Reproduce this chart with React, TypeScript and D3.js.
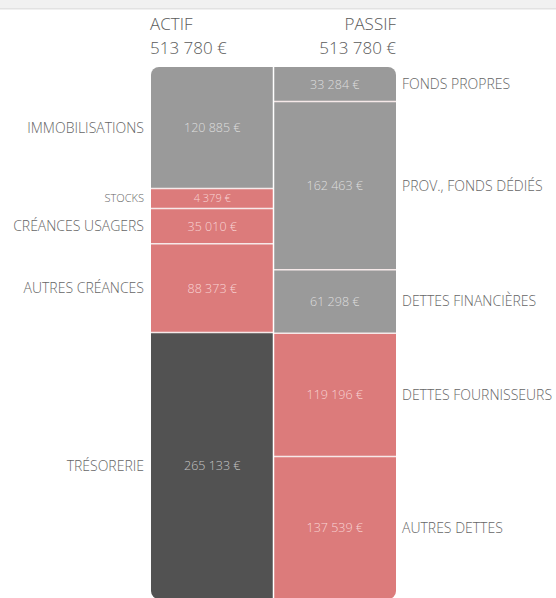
import { useMemo } from 'react';
import * as d3 from 'd3';

// bilan simplifié
const actifLabels = ['IMMOBILISATIONS', 'STOCKS', 'CRÉANCES USAGERS', 'AUTRES CRÉANCES', 'TRÉSORERIE'];
const actifValues = [120885, 4379, 35010, 88373, 265133];
const actifKinds = ['fixe', 'circ', 'circ', 'circ', 'treso'];

const passifLabels = ['FONDS PROPRES', 'PROV., FONDS DÉDIÉS', 'DETTES FINANCIÈRES', 'DETTES FOURNISSEURS', 'AUTRES DETTES'];
const passifValues = [33284, 162463, 61298, 119196, 137539];
const passifKinds = ['fixe', 'fixe', 'fixe', 'circ', 'circ'];

const fill: Record<string, string> = { fixe: '#9a9a9a', circ: '#dc7b7b', treso: '#525252' };
const ink: Record<string, string> = { fixe: '#dedede', circ: '#f8d3d3', treso: '#c4c4c4' };

const fr = d3.formatLocale({ decimal: ',', thousands: '\u00a0', grouping: [3], currency: ['', '\u00a0€'] });
const euro = fr.format('$,.0f');

const W = 556;
const H = 598;
const top = 67;
const bottom = 599;
const minH = 20;
const FONT = "'Open Sans', 'Noto Sans', sans-serif";

// stack with a minimum height for the tiny segments
function layout(values: number[]) {
  const total = d3.sum(values);
  const k = d3.scaleLinear().domain([0, total]).range([0, bottom - top]);
  const small = values.map((v) => k(v) < minH);
  const rest = d3.sum(values.filter((_, i) => !small[i]));
  const room = bottom - top - minH * small.filter(Boolean).length;
  const y = d3.scaleLinear().domain([0, rest]).range([0, room]);
  let acc = top;
  return values.map((v, i) => {
    const h = small[i] ? minH : y(v);
    const seg = { y0: acc, y1: acc + h, small: small[i] };
    acc += h;
    return seg;
  });
}

const App = () => {
  const x = d3.scaleBand().domain(['ACTIF', 'PASSIF']).range([151, 396]).paddingInner(0);
  const actif = useMemo(() => layout(actifValues), []);
  const passif = useMemo(() => layout(passifValues), []);
  const bw = x.bandwidth();
  const xa = x('ACTIF')!;
  const xp = x('PASSIF')!;

  return (
    <svg width={W} height={H} style={{ position: 'absolute', left: 0, top: 0, background: '#fff' }} fontFamily={FONT}>
      <defs>
        <clipPath id="bars">
          <rect x={xa} y={top} width={bw * 2} height={bottom - top} rx={8} ry={8} />
        </clipPath>
      </defs>
      <rect x={0} y={0} width={W} height={8} fill="#f1f1f1" />
      <rect x={0} y={8} width={W} height={1.5} fill="#e2e2e2" />

      {/* en-têtes */}
      <g fill="#5a5a5a" fontSize={17} fontWeight={300}>
        <text x={xa - 1} y={30}>ACTIF</text>
        <text x={xa - 1} y={54}>{euro(d3.sum(actifValues))}</text>
        <text x={xp + bw} y={30} textAnchor="end">PASSIF</text>
        <text x={xp + bw} y={54} textAnchor="end">{euro(d3.sum(passifValues))}</text>
      </g>

      <g clipPath="url(#bars)">
        {actif.map((s, i) => (
          <rect key={'a' + i} x={xa} y={s.y0} width={bw} height={s.y1 - s.y0} fill={fill[actifKinds[i]]} />
        ))}
        {passif.map((s, i) => (
          <rect key={'p' + i} x={xp} y={s.y0} width={bw} height={s.y1 - s.y0} fill={fill[passifKinds[i]]} />
        ))}
        {actif.slice(1).map((s, i) => (
          <line key={'la' + i} x1={xa} x2={xa + bw} y1={s.y0} y2={s.y0} stroke="#f6e9e9" strokeWidth={1.5} />
        ))}
        {passif.slice(1).map((s, i) => (
          <line key={'lp' + i} x1={xp} x2={xp + bw} y1={s.y0} y2={s.y0} stroke="#f6e9e9" strokeWidth={1.5} />
        ))}
        <line x1={xp} x2={xp} y1={top} y2={bottom} stroke="#fff" strokeWidth={1.5} />
      </g>

      {/* montants */}
      <g fontWeight={300} textAnchor="middle">
        {actif.map((s, i) => (
          <text key={'va' + i} x={xa + bw / 2} y={(s.y0 + s.y1) / 2} dy="0.36em" fill={ink[actifKinds[i]]} fontSize={s.small ? 11 : 12.5}>
            {euro(actifValues[i])}
          </text>
        ))}
        {passif.map((s, i) => (
          <text key={'vp' + i} x={xp + bw / 2} y={(s.y0 + s.y1) / 2} dy="0.36em" fill={ink[passifKinds[i]]} fontSize={s.small ? 11 : 12.5}>
            {euro(passifValues[i])}
          </text>
        ))}
      </g>

      {/* libellés */}
      <g fill="#666" fontWeight={300}>
        {actif.map((s, i) => (
          <text key={'ta' + i} x={xa - 7} y={(s.y0 + s.y1) / 2} dy="0.36em" textAnchor="end" fontSize={s.small ? 11 : 14}>
            {actifLabels[i]}
          </text>
        ))}
        {passif.map((s, i) => (
          <text key={'tp' + i} x={xp + bw + 6} y={(s.y0 + s.y1) / 2} dy="0.36em" fontSize={14}>
            {passifLabels[i]}
          </text>
        ))}
      </g>
    </svg>
  );
};

export default App;
